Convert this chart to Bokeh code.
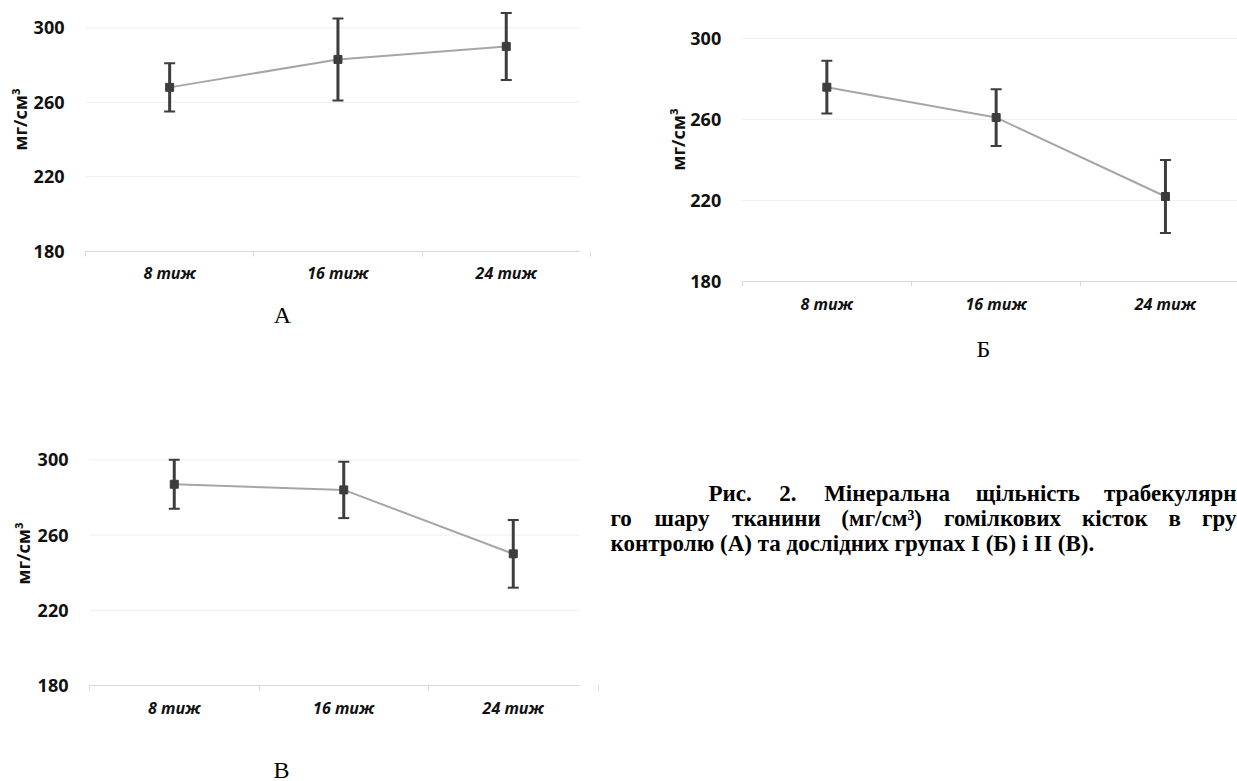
from bokeh.plotting import figure
from bokeh.models import Range1d, FixedTicker, ColumnDataSource, Whisker, TeeHead, Label
from bokeh.layouts import row, column
from bokeh.embed import file_html
from bokeh.resources import INLINE

# ---------------- data ----------------
weeks = ["8 тиж", "16 тиж", "24 тиж"]
y_ticks = [180, 220, 260, 300]
y_label = "мг/см³"

a_mean = [268, 283, 290]
a_err = [13, 22, 18]

b_mean = [276, 261, 222]
b_err = [13, 14, 18]

v_mean = [287, 284, 250]
v_err = [13, 15, 18]

panel_letters = ["А", "Б", "В"]

caption_line1 = ["Рис.", "2.", "Мінеральна", "щільність", "трабекулярн"]
caption_line2 = ["го", "шару", "тканини", "(мг/см³)", "гомілкових", "кісток", "в", "гру"]
caption_line3 = "контролю (А) та дослідних групах І (Б) і ІІ (В)."

# ---------------- styles ----------------
TICK_FONT = "Open Sans"
DARK = "#3d3d3d"
LINE = "#a6a6a6"
GRID = "#efefef"
AXIS = "#d9d9d9"
TXT = "#111111"


def make_panel(mean, err, letter, W, H, x0_px, cat_w, right_px, y180_px, y300_px,
               ylab_xy, letter_xy):
    lo, hi = y_ticks[0], y_ticks[-1]
    ppu = (y180_px - y300_px) / (hi - lo)
    y_bottom = lo - (H - y180_px) / ppu
    y_top = hi + y300_px / ppu
    x_start = -x0_px / cat_w
    x_end = (W - x0_px) / cat_w
    x_right = min(len(weeks), (right_px - x0_px) / cat_w)

    x = [i + 0.5 for i in range(len(weeks))]
    upper = [m + e for m, e in zip(mean, err)]
    lower = [m - e for m, e in zip(mean, err)]
    src = ColumnDataSource(dict(x=x, mean=mean, upper=upper, lower=lower))

    p = figure(width=W, height=H, title=None,
               min_border_left=0, min_border_right=0, min_border_top=0, min_border_bottom=0,
               x_range=Range1d(x_start, x_end), y_range=Range1d(y_bottom, y_top),
               output_backend="svg", toolbar_location=None)
    p.outline_line_color = None
    p.background_fill_color = "white"
    p.border_fill_color = "white"
    p.grid.visible = False

    # horizontal gridlines limited to the plot area
    p.segment(x0=[0] * len(y_ticks), x1=[x_right] * len(y_ticks), y0=y_ticks, y1=y_ticks,
              line_color=GRID, line_width=1)

    # y axis at the left edge of the plot area
    ya = p.yaxis[0]
    ya.fixed_location = 0
    ya.bounds = (lo, hi)
    ya.ticker = FixedTicker(ticks=y_ticks)
    ya.axis_line_color = None
    ya.major_tick_line_color = None
    ya.minor_tick_line_color = None
    ya.major_tick_out = 0
    ya.major_tick_in = 0
    ya.major_label_standoff = 21
    ya.major_label_text_font = TICK_FONT
    ya.major_label_text_font_style = "bold"
    ya.major_label_text_font_size = "18px"
    ya.major_label_text_color = TXT

    # x axis on the 180 line
    xa = p.xaxis[0]
    xa.fixed_location = lo
    xa.bounds = (0, x_right)
    xa.ticker = FixedTicker(ticks=x, minor_ticks=list(range(len(weeks) + 1)))
    xa.major_label_overrides = {xx: w for xx, w in zip(x, weeks)}
    xa.axis_line_color = AXIS
    xa.axis_line_width = 1
    xa.major_tick_line_color = None
    xa.major_tick_out = 0
    xa.major_tick_in = 0
    xa.minor_tick_line_color = AXIS
    xa.minor_tick_out = 5
    xa.minor_tick_in = 0
    xa.major_label_standoff = 6
    xa.major_label_text_font = TICK_FONT
    xa.major_label_text_font_style = "bold italic"
    xa.major_label_text_font_size = "16px"
    xa.major_label_text_color = TXT

    p.line("x", "mean", source=src, line_color=LINE, line_width=2)
    w = Whisker(source=src, base="x", upper="upper", lower="lower",
                dimension="height", line_color=DARK, line_width=3,
                upper_head=TeeHead(size=11, line_color=DARK, line_width=2),
                lower_head=TeeHead(size=11, line_color=DARK, line_width=2),
                level="glyph")
    p.add_layout(w)
    p.scatter("x", "mean", source=src, marker="square", size=8,
              fill_color=DARK, line_color=DARK)

    p.add_layout(Label(x=ylab_xy[0], y=ylab_xy[1], x_units="canvas", y_units="canvas",
                       text=y_label, angle=90, angle_units="deg",
                       text_font=TICK_FONT, text_font_style="bold", text_font_size="18px",
                       text_color=TXT, text_align="center", text_baseline="middle"))
    p.add_layout(Label(x=letter_xy[0], y=letter_xy[1], x_units="canvas", y_units="canvas",
                       text=letter, text_font="Liberation Serif", text_font_size="24px",
                       text_color="#000000", text_align="center", text_baseline="middle"))
    return p


pA = make_panel(a_mean, a_err, panel_letters[0], W=632, H=388, x0_px=85, cat_w=168.3,
                right_px=579, y180_px=250.7, y300_px=27.3,
                ylab_xy=(19, 119), letter_xy=(282, 314))
pB = make_panel(b_mean, b_err, panel_letters[1], W=605, H=388, x0_px=109.7, cat_w=169.3,
                right_px=605, y180_px=281, y300_px=38.1,
                ylab_xy=(45, 139), letter_xy=(351, 348))
pV = make_panel(v_mean, v_err, panel_letters[2], W=600, H=393, x0_px=89, cat_w=169.5,
                right_px=579, y180_px=297, y300_px=71.3,
                ylab_xy=(22, 165), letter_xy=(281, 381))

# ---------------- caption panel ----------------
CAP_W, CAP_H = 637, 393
CAP_FS = 23
cap = figure(width=CAP_W, height=CAP_H, title=None, x_range=Range1d(0, CAP_W), y_range=Range1d(0, CAP_H),
             min_border_left=0, min_border_right=0, min_border_top=0, min_border_bottom=0,
             output_backend="svg", toolbar_location=None)
cap.axis.visible = False
cap.grid.visible = False
cap.outline_line_color = None

# approximate advance widths (per 1000 em) of a bold Times-like face, used only to justify words
_adv = {' ': 250, '.': 250, '2': 500, '(': 333, ')': 333, '/': 278, '³': 300,
        'Р': 611, 'М': 944, 'а': 500, 'б': 500, 'в': 486, 'г': 430, 'д': 520, 'е': 444,
        'ж': 800, 'з': 420, 'и': 564, 'й': 564, 'к': 540, 'л': 540, 'м': 680, 'н': 564,
        'о': 500, 'п': 564, 'р': 556, 'с': 444, 'т': 470, 'у': 500, 'х': 500, 'ь': 500,
        'я': 556, 'і': 278, 'щ': 830, 'ш': 830, 'ю': 780}


def _w(s):
    return sum(_adv.get(c, 520) for c in s) / 1000 * CAP_FS


def justified(words, x_left, x_right, base_y):
    total = sum(_w(wd) for wd in words)
    gap = (x_right - x_left - total) / (len(words) - 1)
    xpos = x_left
    for i, wd in enumerate(words):
        last = i == len(words) - 1
        cap.add_layout(Label(x=x_right if last else xpos, y=base_y, x_units="canvas", y_units="canvas",
                             text=wd, text_font="Liberation Serif", text_font_style="bold",
                             text_font_size=f"{CAP_FS}px", text_color="#000000",
                             text_align="right" if last else "left", text_baseline="alphabetic"))
        xpos += _w(wd) + gap


RIGHT = CAP_W - 1
justified(caption_line1, 108, RIGHT, 105)
justified(caption_line2, 10, RIGHT, 130)
cap.add_layout(Label(x=10, y=155, x_units="canvas", y_units="canvas", text=caption_line3,
                     text_font="Liberation Serif", text_font_style="bold",
                     text_font_size=f"{CAP_FS}px", text_color="#000000",
                     text_align="left", text_baseline="alphabetic"))

layout = column(row(pA, pB, spacing=0), row(pV, cap, spacing=0), spacing=0)

open("out.html", "w").write(file_html(layout, INLINE, "plot"))
